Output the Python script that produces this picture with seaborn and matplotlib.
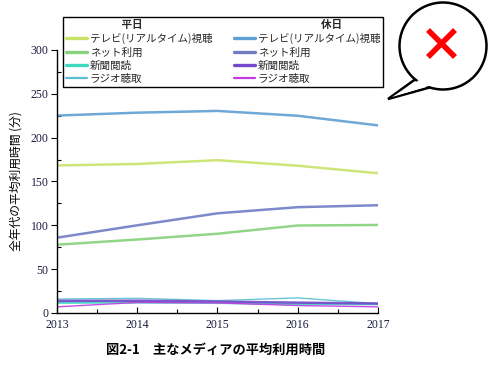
import matplotlib
matplotlib.use("Agg")
import matplotlib.pyplot as plt
import seaborn as sns
import pandas as pd
from matplotlib.lines import Line2D
from matplotlib.patches import Ellipse, Polygon
from matplotlib.ticker import MultipleLocator

years = [2013, 2014, 2015, 2016, 2017]
wd_tv = [168.3, 170.0, 174.3, 168.0, 159.4]
wd_net = [77.9, 83.8, 90.4, 99.8, 100.4]
wd_news = [11.8, 12.1, 11.6, 10.3, 10.2]
wd_radio = [15.9, 16.7, 14.1, 17.2, 10.6]
hd_tv = [225.2, 228.5, 230.5, 225.0, 214.0]
hd_net = [85.9, 100.0, 113.7, 120.7, 122.9]
hd_news = [13.8, 14.0, 13.0, 11.8, 10.8]
hd_radio = [7.0, 12.0, 11.5, 8.5, 7.0]

labels = ["テレビ(リアルタイム)視聴", "ネット利用", "新聞閲読", "ラジオ聴取"]
wd_colors = ["#c9e36a", "#85d27a", "#3fd9c2", "#5bbfd0"]
hd_colors = ["#5f9fd2", "#6f7cc2", "#7448c8", "#c43ae0"]
widths = [1.8, 1.8, 1.8, 1.0]

sns.set_theme(style="white")
plt.rcParams['font.family'] = ['Noto Sans CJK JP', 'DejaVu Sans']

fig = plt.figure(figsize=(4.9, 3.69), dpi=100)
ax = fig.add_axes([0.1163, 0.1518, 0.655, 0.7127])

wd_series = [wd_tv, wd_net, wd_news, wd_radio]
hd_series = [hd_tv, hd_net, hd_news, hd_radio]
handles_wd, handles_hd = [], []
for vals, c, lw in zip(wd_series, wd_colors, widths):
    df = pd.DataFrame({"year": years, "v": vals})
    sns.lineplot(data=df, x="year", y="v", ax=ax, color=c, linewidth=lw, alpha=0.9, legend=False)
    handles_wd.append(Line2D([], [], color=c, linewidth=lw + 0.6))
for vals, c, lw in zip(hd_series, hd_colors, widths):
    df = pd.DataFrame({"year": years, "v": vals})
    sns.lineplot(data=df, x="year", y="v", ax=ax, color=c, linewidth=lw, alpha=0.9, legend=False)
    handles_hd.append(Line2D([], [], color=c, linewidth=lw + 0.6))

ax.set_xlim(2013, 2017)
ax.set_ylim(0, 300)
ax.xaxis.set_major_locator(MultipleLocator(1))
ax.xaxis.set_minor_locator(MultipleLocator(0.5))
ax.yaxis.set_major_locator(MultipleLocator(50))
ax.yaxis.set_minor_locator(MultipleLocator(25))
ax.set_xticks(years)
ax.set_xticklabels([str(y) for y in years])
for s in ["top", "right"]:
    ax.spines[s].set_visible(False)
for s in ["left", "bottom"]:
    ax.spines[s].set_color("black")
    ax.spines[s].set_linewidth(1.0)
ax.tick_params(axis="x", which="both", direction="in", length=4, width=0.8, color="black",
               labelsize=8.5, labelcolor="#1c1c40", pad=4)
ax.tick_params(axis="x", which="minor", length=3)
ax.tick_params(axis="y", which="major", direction="out", length=4, width=0.8, color="black",
               labelsize=8.5, labelcolor="#1c1c40", pad=2)
ax.tick_params(axis="y", which="minor", direction="in", length=3, width=0.8, color="black")
ax.tick_params(bottom=True, left=True, which="both")
for t in ax.get_xticklabels() + ax.get_yticklabels():
    t.set_fontfamily("Liberation Serif")
ax.set_xlabel("")
ax.set_ylabel("全年代の平均利用時間 (分)", fontsize=8.5, color="black", labelpad=6)
ax.grid(False)

blank = Line2D([], [], color="none")
handles = [blank] + handles_wd + [blank] + handles_hd
leg_labels = ["　　　平日"] + labels + ["　　　　　　休日"] + labels
leg = fig.legend(handles, leg_labels, ncol=2, loc="upper left",
                 bbox_to_anchor=(63 / 490, 1 - 90 / 369, 320 / 490, 73 / 369),
                 mode="expand", fontsize=7.6, frameon=True, fancybox=False,
                 edgecolor="black", framealpha=1, handlelength=2.0, handletextpad=0.3,
                 labelspacing=0.3, borderpad=0.25, borderaxespad=0, columnspacing=1.0)
leg.get_frame().set_linewidth(1.0)
texts = leg.get_texts()
texts[0].set_fontweight("bold")
texts[5].set_fontweight("bold")

fig.text(216 / 490, 1 - 350 / 369, "図2-1　主なメディアの平均利用時間", ha="center", va="center",
         fontsize=9.5, fontweight="bold", color="black")

# speech bubble overlay
ov = fig.add_axes([0, 0, 1, 1], zorder=5)
ov.set_xlim(0, 490)
ov.set_ylim(369, 0)
ov.axis("off")
ov.patch.set_alpha(0)
ov.add_patch(Polygon([(417, 78), (388, 99), (435, 86)], closed=True, facecolor="white",
                     edgecolor="black", linewidth=1.8, joinstyle="miter"))
ov.add_patch(Ellipse((443, 46), 87, 87, facecolor="white", edgecolor="black", linewidth=1.8))
ov.add_patch(Polygon([(419, 80), (392, 97), (432, 85)], closed=True, facecolor="white",
                     edgecolor="none"))
ov.plot([428, 455], [30, 57], color="#ff0000", linewidth=4, solid_capstyle="butt")
ov.plot([455, 428], [30, 57], color="#ff0000", linewidth=4, solid_capstyle="butt")

fig.savefig("out.png", dpi=100)
